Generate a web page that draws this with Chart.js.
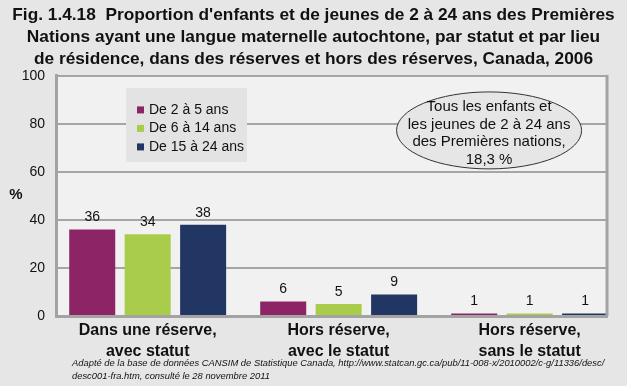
<!DOCTYPE html>
<html>
<head>
<meta charset="utf-8">
<script src="https://cdn.jsdelivr.net/npm/chart.js@4.4.1/dist/chart.umd.min.js"></script>
<style>
  html, body { margin: 0; padding: 0; background: #e6e6e6; }
  #wrap { width: 627px; height: 386px; }
</style>
</head>
<body>
<div id="wrap"><canvas id="chart" width="627" height="386"></canvas></div>
<script>
// Fig. 1.4.18 - langue maternelle autochtone, Premières Nations, 2006
const titleLines = [
  "Fig. 1.4.18  Proportion d'enfants et de jeunes de 2 à 24 ans des Premières",
  'Nations ayant une langue maternelle autochtone, par statut et par lieu',
  'de résidence, dans des réserves et hors des réserves, Canada, 2006'
];
const categories = [
  ['Dans une réserve,', 'avec statut'],
  ['Hors réserve,', 'avec le statut'],
  ['Hors réserve,', 'sans le statut']
];
const seriesNames = ['De 2 à 5 ans', 'De 6 à 14 ans', 'De 15 à 24 ans'];
const age2to5 = [36, 6, 1];
const age6to14 = [34, 5, 1];
const age15to24 = [38, 9, 1];
const yTicks = [0, 20, 40, 60, 80, 100];
const noteLines = ['Tous les enfants et', 'les jeunes de 2 à 24 ans', 'des Premières nations,', '18,3 %'];
const sourceLines = [
  'Adapté de la base de données CANSIM de Statistique Canada, http://www.statcan.gc.ca/pub/11-008-x/2010002/c-g/11336/desc/',
  'desc001-fra.htm, consulté le 28 novembre 2011'
];

const colors = ['#8c2466', '#a9cd4a', '#213662'];
const FONT = '"Liberation Sans", Arial, sans-serif';

const toPoints = arr => arr.map((v, i) => ({ x: i, y: v }));

const plotFrame = {
  id: 'plotFrame',
  beforeDraw(chart) {
    const { ctx, chartArea: a } = chart;
    ctx.save();
    ctx.fillStyle = '#f1f1f1';
    ctx.fillRect(a.left, a.top, a.right - a.left, a.bottom - a.top);
    ctx.restore();
  },
  afterDatasetsDraw(chart) {
    const { ctx, chartArea: a } = chart;
    ctx.save();
    // right edge of the plot box
    ctx.strokeStyle = '#a3a3a3';
    ctx.lineWidth = 3;
    ctx.beginPath();
    ctx.moveTo(a.right, a.top - 1);
    ctx.lineTo(a.right, a.bottom);
    ctx.stroke();

    // value labels above bars
    ctx.fillStyle = '#111';
    ctx.font = '14px ' + FONT;
    ctx.textAlign = 'center';
    ctx.textBaseline = 'bottom';
    chart.data.datasets.forEach((ds, di) => {
      chart.getDatasetMeta(di).data.forEach((bar, i) => {
        ctx.fillText(String(ds.data[i].y), bar.x, bar.y - 5);
      });
    });

    // legend box
    const lx = a.left + 70, ly = a.top + 12;
    ctx.fillStyle = '#e3e3e3';
    ctx.fillRect(lx, ly, 121, 74);
    ctx.font = '14px ' + FONT;
    ctx.textAlign = 'left';
    ctx.textBaseline = 'middle';
    chart.data.datasets.forEach((ds, di) => {
      const cy = ly + 22 + di * 18.5;
      ctx.fillStyle = ds.backgroundColor;
      ctx.fillRect(lx + 11, cy - 3.5, 7, 7);
      ctx.fillStyle = '#111';
      ctx.fillText(ds.label, lx + 23, cy);
    });

    // ellipse note
    const ex = a.left + (a.right - a.left) * 0.786, ey = a.top + 54.5;
    ctx.beginPath();
    ctx.ellipse(ex, ey, 92.5, 38.5, 0, 0, Math.PI * 2);
    ctx.fillStyle = '#e6e6e6';
    ctx.fill();
    ctx.strokeStyle = '#333';
    ctx.lineWidth = 1;
    ctx.stroke();
    ctx.fillStyle = '#111';
    ctx.font = '15px ' + FONT;
    ctx.textAlign = 'center';
    noteLines.forEach((t, i) => ctx.fillText(t, ex, ey - 23.5 + i * 17.7));

    // "%" axis label
    ctx.font = 'bold 15px ' + FONT;
    ctx.fillText('%', 16, (a.top + a.bottom) / 2 - 1);

    // source note
    ctx.font = 'italic 9.4px ' + FONT;
    ctx.textAlign = 'left';
    sourceLines.forEach((t, i) => ctx.fillText(t, 72, 363 + i * 13));
    ctx.restore();
  }
};

new Chart(document.getElementById('chart'), {
  type: 'bar',
  data: {
    datasets: [
      { label: seriesNames[0], data: toPoints(age2to5), backgroundColor: colors[0] },
      { label: seriesNames[1], data: toPoints(age6to14), backgroundColor: colors[1] },
      { label: seriesNames[2], data: toPoints(age15to24), backgroundColor: colors[2] }
    ]
  },
  options: {
    responsive: false,
    devicePixelRatio: 1,
    animation: false,
    categoryPercentage: 0.871,
    barPercentage: 0.83,
    layout: { padding: 0 },
    plugins: {
      legend: { display: false },
      tooltip: { enabled: false },
      title: {
        display: true,
        text: titleLines,
        color: '#111',
        font: { family: FONT, size: 17.3, weight: 'bold', lineHeight: 1.27 },
        padding: { top: 4, bottom: 6 }
      }
    },
    scales: {
      x: {
        type: 'linear',
        offset: false,
        min: -0.48,
        max: 2.405,
        afterBuildTicks: s => { s.ticks = categories.map((_, i) => ({ value: i })); },
        afterFit: s => { s.height = 70; },
        grid: { display: false, drawTicks: false },
        border: { display: true, color: '#a3a3a3', width: 3 },
        ticks: {
          autoSkip: false,
          maxRotation: 0,
          padding: 4,
          color: '#111',
          font: { family: FONT, size: 16, weight: 'bold', lineHeight: 1.3 },
          callback: v => categories[v]
        }
      },
      y: {
        min: 0,
        max: 100,
        afterBuildTicks: s => { s.ticks = yTicks.map(v => ({ value: v })); },
        afterFit: s => { s.width = 56; },
        grid: { color: '#a5a5a5', lineWidth: 2, drawTicks: false },
        border: { display: true, color: '#a3a3a3', width: 3 },
        ticks: {
          padding: 11,
          color: '#111',
          font: { family: FONT, size: 14 }
        }
      },
      // empty right margin
      yRight: {
        position: 'right',
        min: 0,
        max: 100,
        afterFit: s => { s.width = 20; },
        grid: { display: false, drawTicks: false },
        border: { display: false },
        ticks: { display: false }
      }
    }
  },
  plugins: [plotFrame]
});
</script>
</body>
</html>
